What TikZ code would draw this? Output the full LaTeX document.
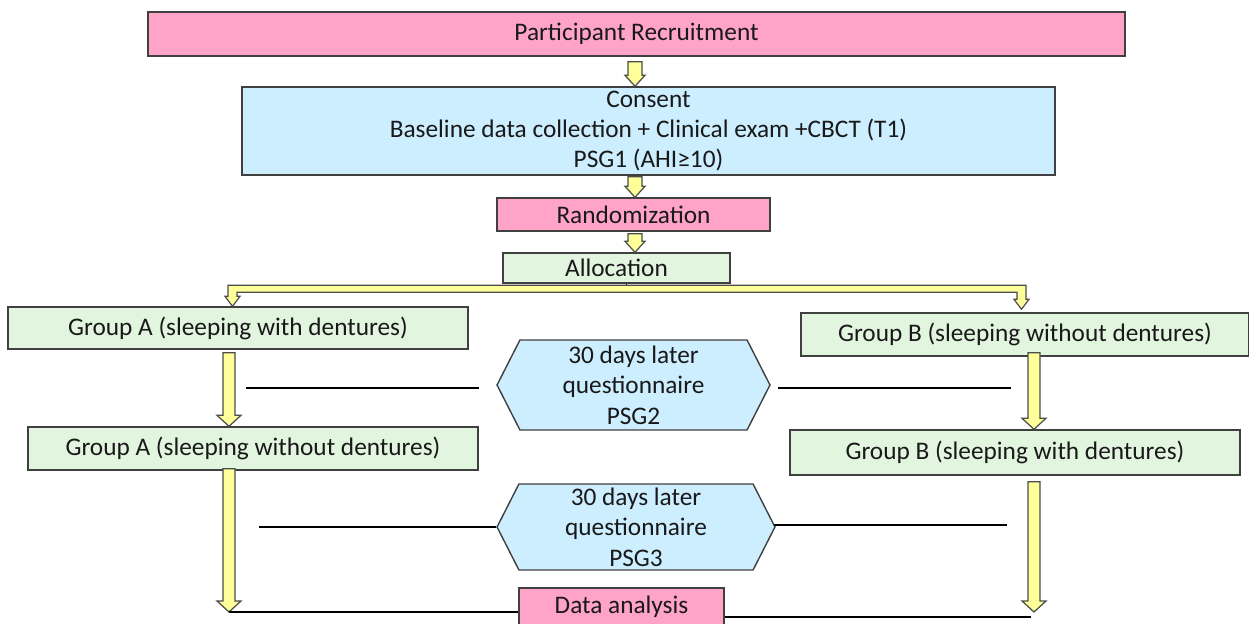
\documentclass[tikz,border=0pt]{standalone}
\usepackage{fontspec}
\setmainfont{Carlito}
\usetikzlibrary{calc,shapes.symbols}

\definecolor{pinkbox}{HTML}{FFA3C8}
\definecolor{bluebox}{HTML}{CCEEFF}
\definecolor{greenbox}{HTML}{E2F5DF}
\definecolor{yellowarr}{HTML}{FFFF99}

% yellow block arrow: #1 shaft half width, #2 head half width,
% straight down from #3 to the level of #4
\newcommand{\yarrow}[4]{%
  \draw[yarr] ($(#3)+(-#1,0)$) -- ($(#3 |- #4)+(-#1,-11)$) -- ($(#3 |- #4)+(-#2,-11)$)
    -- (#3 |- #4) -- ($(#3 |- #4)+(#2,-11)$) -- ($(#3 |- #4)+(#1,-11)$)
    -- ($(#3)+(#1,0)$) -- cycle;}

\begin{document}
\begin{tikzpicture}[x=0.02cm, y=-0.02cm, font=\fontsize{14.4}{17.3}\selectfont]
            \tikzset{mybox/.style={rectangle, draw=black!75, line width=0.8pt, text=black!90,
                inner sep=0pt, align=center, text centered},
                myhex/.style={signal, signal to=west and east, signal pointer angle=126,
                draw=black!75, line width=0.8pt, fill=bluebox, text=black!90, inner sep=0pt, align=center},
                yarr/.style={draw=black!70, line width=0.7pt, fill=yellowarr},
                myline/.style={draw=black, line width=1.2pt}}
        \useasboundingbox (0,0) rectangle (1249,624);

        \node[mybox, fill=pinkbox, minimum width=19.54cm, minimum height=0.88cm] (rec) at (636.5,34) {Participant Recruitment};
        \node[mybox, fill=bluebox, minimum width=16.26cm, minimum height=1.76cm] (con) at (648.5,131)
            {Consent \\ Baseline data collection + Clinical exam +CBCT (T1) \\ PSG1 (AHI≥10)};
        \node[mybox, fill=pinkbox, minimum width=5.46cm, minimum height=0.66cm] (ran) at (633.5,214.5) {Randomization};
        \node[mybox, fill=greenbox, minimum width=4.54cm, minimum height=0.6cm] (all) at (616.5,268) {Allocation};

        \node[mybox, fill=greenbox, minimum width=9.2cm, minimum height=0.84cm] (gA1) at (238,328) {Group A (sleeping with dentures)};
        \node[mybox, fill=greenbox, minimum width=8.96cm, minimum height=0.86cm] (gB1) at (1025,334.5) {Group B (sleeping without dentures)};
        \node[myhex, minimum width=5.46cm, minimum height=1.8cm] (hex1) at (633.5,385) {30 days later \\ questionnaire \\ PSG2};
        \node[mybox, fill=greenbox, minimum width=9cm, minimum height=0.86cm] (gA2) at (253,448.5) {Group A (sleeping without dentures)};
        \node[mybox, fill=greenbox, minimum width=9cm, minimum height=0.9cm] (gB2) at (1015,452.5) {Group B (sleeping with dentures)};
        \node[myhex, minimum width=5.56cm, minimum height=1.72cm] (hex2) at (636,527) {30 days later \\ questionnaire \\ PSG3};
        \node[mybox, fill=pinkbox, minimum width=4.1cm, minimum height=0.76cm] (dat) at (621.5,607) {Data analysis};

        % start points of the block arrows
        \coordinate (s1) at ($(rec.south)+(-1.5,5)$);
        \coordinate (s2) at ($(con.south)+(-13.5,1)$);
        \coordinate (s3) at ($(ran.south)+(1.5,2)$);
        \coordinate (s4) at ($(gA1.south)+(-9,3)$);
        \coordinate (s5) at ($(gB1.south)+(9,-4)$);
        \coordinate (s6) at ($(gA2.south)+(-24,-2)$);
        \coordinate (s7) at ($(gB2.south)+(19,6)$);
        \coordinate (tL) at ($(dat.west)+(-289,5)$);
        \coordinate (tR) at ($(dat.east)+(310,5)$);

        \yarrow{7}{10}{s1}{con.north}
        \yarrow{7}{10}{s2}{ran.north}
        \yarrow{7}{10}{s3}{all.north}
        \yarrow{6}{12}{s4}{gA2.north}
        \yarrow{6}{12}{s5}{gB2.north}
        \yarrow{6}{12}{s6}{tL}
        \yarrow{6}{12}{s7}{tR}

        % allocation bracket
        \coordinate (bl) at ($(gA1.north)+(-5.5,0)$);
        \coordinate (br) at ($(gB1.north)+(-3.5,-3)$);
        \draw[myline, line width=0.8pt] ($(all.south)+(10,0)$) -- ++(0,6);
        \draw[yarr] ($(bl)+(-4.5,-21)$) -- ($(br)+(4.5,-24)$) -- ($(br)+(4.5,-10)$) -- ($(br)+(7.5,-10)$)
            -- (br) -- ($(br)+(-7.5,-10)$) -- ($(br)+(-4.5,-10)$) -- ($(br)+(-4.5,-17)$)
            -- ($(bl)+(4.5,-14)$) -- ($(bl)+(4.5,-10)$) -- ($(bl)+(7.5,-10)$) -- (bl)
            -- ($(bl)+(-7.5,-10)$) -- ($(bl)+(-4.5,-10)$) -- cycle;

        \draw[myline] ($(hex1.west)+(-17,3)$) -- ++(-233,0);
        \draw[myline] ($(hex1.east)+(7,3)$) -- ++(233,0);
        \draw[myline] (hex2.west) -- ++(-237,0);
        \draw[myline] ($(hex2.east)+(-2,-2)$) -- ++(233,0);

        \draw[myline] (tL) -- (tL -| dat.west);
        \draw[myline] ($(dat.east)+(0,10)$) -- ($(tR)+(-4,5)$);

        \end{tikzpicture}
\end{document}
